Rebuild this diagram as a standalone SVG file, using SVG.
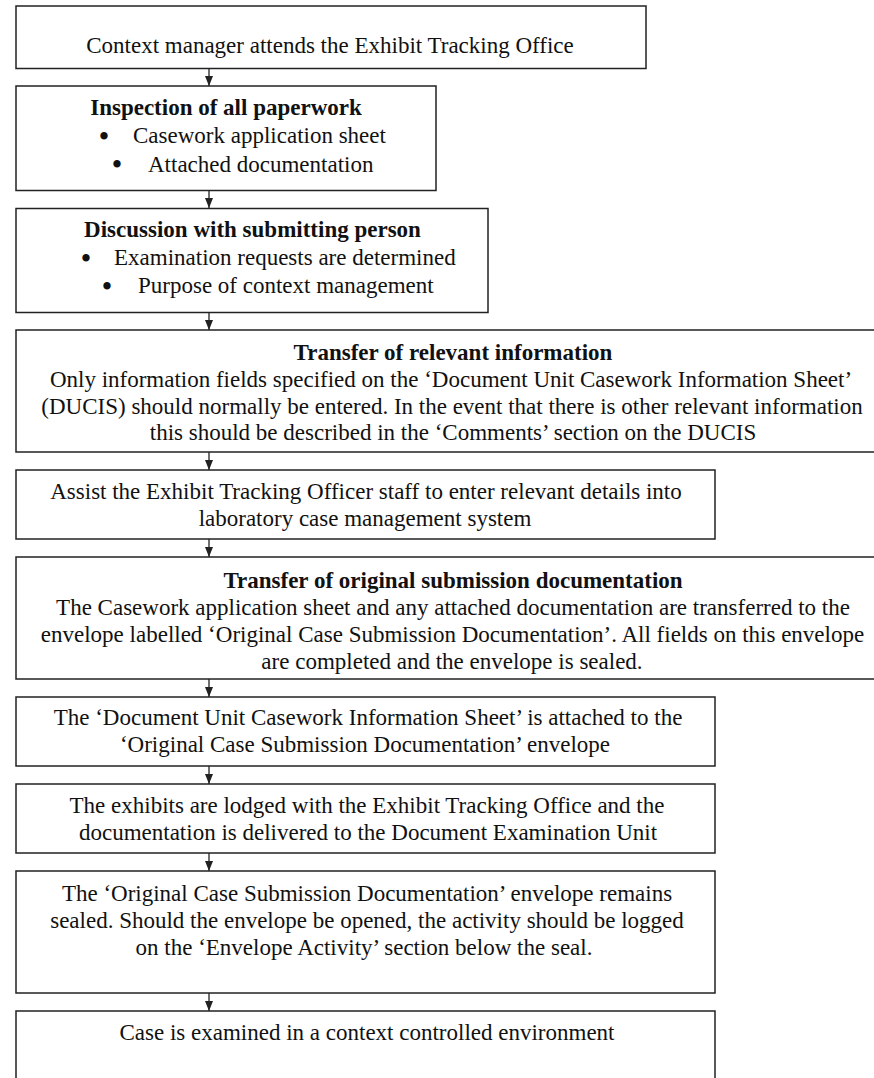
<svg xmlns="http://www.w3.org/2000/svg" width="874" height="1078" viewBox="0 0 874 1078">
<style>
.box{fill:#fff;stroke:#222;stroke-width:1.5}
.t{font-family:"Liberation Serif","Times New Roman",serif;font-size:23px;fill:#111;text-anchor:middle}
.s{text-anchor:start}
.b{font-weight:bold}
.bul{font-size:27px;font-weight:bold}
.conn{stroke:#222;stroke-width:1.3;fill:none}
</style>
<defs>
<marker id="ah" markerWidth="10" markerHeight="8" refX="10" refY="4" orient="auto" markerUnits="userSpaceOnUse">
<path d="M0,0 L10,4 L0,8 Z" fill="#222"/>
</marker>
</defs>
<rect width="874" height="1078" fill="#fff"/>
<g id="connectors">
<line class="conn" x1="209" y1="69" x2="209" y2="86" marker-end="url(#ah)"/>
<line class="conn" x1="209" y1="191" x2="209" y2="208" marker-end="url(#ah)"/>
<line class="conn" x1="209" y1="313" x2="209" y2="330" marker-end="url(#ah)"/>
<line class="conn" x1="209" y1="452" x2="209" y2="470" marker-end="url(#ah)"/>
<line class="conn" x1="209" y1="539" x2="209" y2="557" marker-end="url(#ah)"/>
<line class="conn" x1="209" y1="679" x2="209" y2="697" marker-end="url(#ah)"/>
<line class="conn" x1="209" y1="766" x2="209" y2="784" marker-end="url(#ah)"/>
<line class="conn" x1="209" y1="853" x2="209" y2="871" marker-end="url(#ah)"/>
<line class="conn" x1="209" y1="993" x2="209" y2="1011" marker-end="url(#ah)"/>
</g>
<g id="n1">
<rect class="box" x="16" y="6" width="630" height="62.5"/>
<text class="t" x="330" y="53">Context manager attends the Exhibit Tracking Office</text>
</g>
<g id="n2">
<rect class="box" x="16" y="86" width="420" height="104.5"/>
<text class="t b" x="226" y="115">Inspection of all paperwork</text>
<text class="t bul" x="104" y="144.5">•</text>
<text class="t s" x="133" y="143">Casework application sheet</text>
<text class="t bul" x="117" y="173">•</text>
<text class="t s" x="148" y="171.5">Attached documentation</text>
</g>
<g id="n3">
<rect class="box" x="16" y="208.5" width="472" height="104"/>
<text class="t b" x="252.5" y="237">Discussion with submitting person</text>
<text class="t bul" x="86" y="266.5">•</text>
<text class="t s" x="114" y="265">Examination requests are determined</text>
<text class="t bul" x="107" y="294.5">•</text>
<text class="t s" x="138" y="293">Purpose of context management</text>
</g>
<g id="n4">
<rect class="box" x="16" y="330" width="880" height="122"/>
<text class="t b" x="453" y="360">Transfer of relevant information</text>
<text class="t" x="451" y="387">Only information fields specified on the ‘Document Unit Casework Information Sheet’</text>
<text class="t" x="452" y="413.5">(DUCIS) should normally be entered. In the event that there is other relevant information</text>
<text class="t" x="453" y="440">this should be described in the ‘Comments’ section on the DUCIS</text>
</g>
<g id="n5">
<rect class="box" x="16" y="470" width="699" height="69"/>
<text class="t" x="366" y="499">Assist the Exhibit Tracking Officer staff to enter relevant details into</text>
<text class="t" x="365" y="526">laboratory case management system</text>
</g>
<g id="n6">
<rect class="box" x="16" y="557" width="880" height="122"/>
<text class="t b" x="453" y="588">Transfer of original submission documentation</text>
<text class="t" x="453" y="615">The Casework application sheet and any attached documentation are transferred to the</text>
<text class="t" x="452.5" y="642">envelope labelled ‘Original Case Submission Documentation’. All fields on this envelope</text>
<text class="t" x="452" y="669">are completed and the envelope is sealed.</text>
</g>
<g id="n7">
<rect class="box" x="16" y="697" width="699" height="69"/>
<text class="t" x="368" y="725">The ‘Document Unit Casework Information Sheet’ is attached to the</text>
<text class="t" x="365" y="752">‘Original Case Submission Documentation’ envelope</text>
</g>
<g id="n8">
<rect class="box" x="16" y="784" width="699" height="69"/>
<text class="t" x="367" y="813">The exhibits are lodged with the Exhibit Tracking Office and the</text>
<text class="t" x="368" y="840">documentation is delivered to the Document Examination Unit</text>
</g>
<g id="n9">
<rect class="box" x="16" y="871" width="699" height="122"/>
<text class="t" x="367" y="901">The ‘Original Case Submission Documentation’ envelope remains</text>
<text class="t" x="367" y="928">sealed. Should the envelope be opened, the activity should be logged</text>
<text class="t" x="364" y="955">on the ‘Envelope Activity’ section below the seal.</text>
</g>
<g id="n10">
<rect class="box" x="16" y="1011" width="699" height="90"/>
<text class="t" x="367" y="1040">Case is examined in a context controlled environment</text>
</g>
</svg>
